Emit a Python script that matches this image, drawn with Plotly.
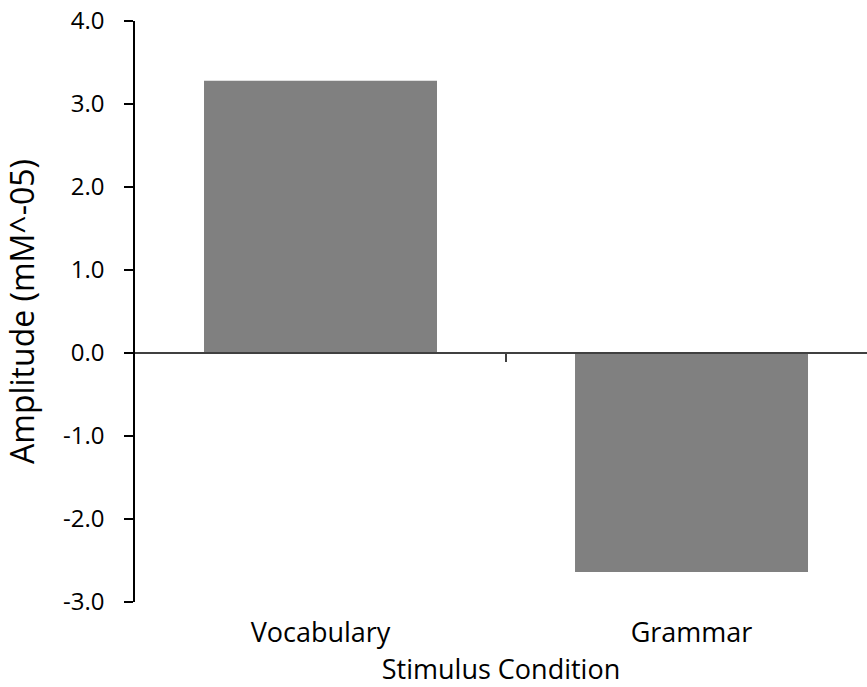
import plotly.graph_objects as go

categories = ["Vocabulary", "Grammar"]
amplitudes = [3.28, -2.64]
y_ticks = [-3.0, -2.0, -1.0, 0.0, 1.0, 2.0, 3.0, 4.0]
y_tick_labels = ["-3.0", "-2.0", "-1.0", "0.0", "1.0", "2.0", "3.0", "4.0"]

FONT = "Open Sans"
BAR = "#808080"

fig = go.Figure()
fig.add_trace(go.Bar(
    x=[0, 1], y=amplitudes, width=0.628,
    marker=dict(color=BAR, line=dict(width=0)),
    showlegend=False, hoverinfo="skip",
))
# invisible trace so the zero-line axis is drawn
fig.add_trace(go.Scatter(x=[0.5], y=[0], xaxis="x2", mode="markers",
                         marker=dict(opacity=0), showlegend=False, hoverinfo="skip"))

xr = [-0.5, 1.473]
fig.update_layout(
    width=867, height=687,
    margin=dict(l=135, r=0, t=21, b=85, autoexpand=False),
    paper_bgcolor="white", plot_bgcolor="white",
    font=dict(family=FONT, size=25, color="black"),
    xaxis=dict(
        range=xr, tickmode="array", tickvals=[0, 1], ticktext=categories,
        showline=False, ticks="", showgrid=False, zeroline=False,
        tickfont=dict(size=27), ticklabelstandoff=12, automargin=True,
        title=dict(text="Stimulus Condition", font=dict(size=27), standoff=8),
    ),
    xaxis2=dict(
        range=xr, overlaying="x", anchor="free", position=3/7,
        tickmode="array", tickvals=[0.5], showticklabels=False,
        ticks="outside", ticklen=8, tickwidth=1.5, tickcolor="#404040",
        showline=True, linecolor="#404040", linewidth=1.5,
        showgrid=False, zeroline=False,
    ),
    yaxis=dict(
        range=[-3, 4], tickmode="array", tickvals=y_ticks, ticktext=y_tick_labels,
        showline=True, linecolor="black", linewidth=1.5,
        ticks="outside", ticklen=9, tickwidth=1.5, tickcolor="black",
        showgrid=False, zeroline=False, ticklabelstandoff=15,
        ticklabeloverflow="allow", automargin=True,
        tickfont=dict(size=24),
        title=dict(text="Amplitude (mM^-05)", font=dict(size=32), standoff=20),
    ),
)
fig.write_html("out.html", config={"displayModeBar": False},
               post_script="document.body.style.margin='0';")
